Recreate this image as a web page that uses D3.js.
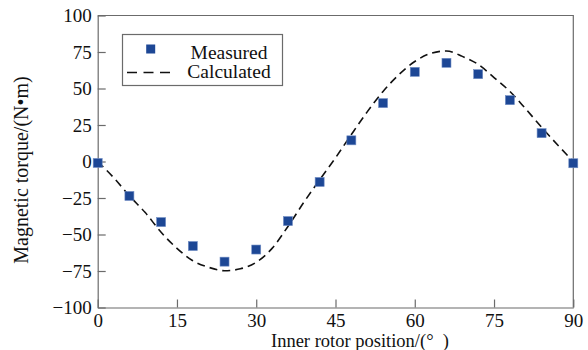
<!DOCTYPE html>
<html>
<head>
<meta charset="utf-8">
<script src="https://cdn.jsdelivr.net/npm/d3@7"></script>
<style>
	body { margin: 0; background: #fff; }
	text { font-family: "Liberation Serif", "Times New Roman", serif; fill: #111; }
</style>
</head>
<body>
<div id="chart"></div>
<script>
'use strict';

// measured torque, every 6 deg
const measuredPos = [0, 6, 12, 18, 24, 30, 36, 42, 48, 54, 60, 66, 72, 78, 84, 90];
const measuredVal = [-1, -23.6, -41.5, -57.9, -68.6, -60.3, -40.8, -14, 14.5, 40, 61.4, 67.6, 59.8, 42, 19.4, -1.2];

const calcPos = [0, 3, 6, 9, 12, 15, 18, 21, 24, 27, 30, 33, 36, 39, 42, 45, 48, 51, 54, 57, 60, 63, 66, 69, 72, 75, 78, 81, 84, 87, 90];
const calcVal = [0, -11, -23.5, -35, -48.5, -59.5, -68, -72.5, -74.8, -73.5, -69, -59.5, -44.5, -28, -12.5, 2.5, 18.5, 34, 48, 59.5, 68.5, 74, 75.7, 72, 66.5, 57.5, 48, 36, 23.5, 11.5, 0];

const xTicks = [0, 15, 30, 45, 60, 75, 90];
const yTicks = [-100, -75, -50, -25, 0, 25, 50, 75, 100];

const width = 588, height = 350;
const axisColor = "#6b6b6b";
const markColor = "#1d4795";

const svg = d3.select("#chart")
	.append("svg")
		.attr("width", width)
		.attr("height", height);

const x = d3.scaleLinear()
	.domain([0, 90])
	.range([97.7, 573.3]);

const y = d3.scaleLinear()
	.domain([-100, 100])
	.range([307.5, 15.5]);

// frame (top + right sides)
svg.append("path")
	.attr("d", `M${x(0)},${y(100)}H${x(90)}V${y(-100)}`)
	.attr("fill", "none")
	.attr("stroke", axisColor)
	.attr("stroke-width", 1.2);

// axes, ticks pointing in
const xAxis = svg.append("g")
	.attr("transform", `translate(0,${y(-100)})`)
	.call(d3.axisBottom(x).tickValues(xTicks).tickSizeInner(-8).tickSizeOuter(0).tickPadding(6));

const yAxis = svg.append("g")
	.attr("transform", `translate(${x(0)},0)`)
	.call(d3.axisLeft(y).tickValues(yTicks).tickSizeInner(-8).tickSizeOuter(0).tickPadding(6));

[xAxis, yAxis].forEach(g => {
	g.select(".domain").attr("stroke", axisColor).attr("stroke-width", 1.2);
	g.selectAll(".tick line").attr("stroke", axisColor).attr("stroke-width", 1.2);
	g.selectAll(".tick text")
		.attr("fill", "#111")
		.style("font-family", '"Liberation Serif", "Times New Roman", serif')
		.style("font-size", "19px");
});

// calculated curve
const calc = calcPos.map((p, i) => ({pos: p, val: calcVal[i]}));
const line = d3.line()
	.x(d => x(d.pos))
	.y(d => y(d.val))
	.curve(d3.curveMonotoneX);

svg.append("path")
	.datum(calc)
	.attr("d", line)
	.attr("fill", "none")
	.attr("stroke", "#111")
	.attr("stroke-width", 1.6)
	.attr("stroke-dasharray", "8,5");

// measured points
const meas = measuredPos.map((p, i) => ({pos: p, val: measuredVal[i]}));
const sz = 9;
svg.append("g")
	.selectAll("rect")
	.data(meas)
	.join("rect")
		.attr("x", d => x(d.pos) - sz / 2)
		.attr("y", d => y(d.val) - sz / 2)
		.attr("width", sz)
		.attr("height", sz)
		.attr("fill", markColor)
		.attr("stroke", "#6f8cc4")
		.attr("stroke-width", 0.6);

// axis titles
svg.append("text")
	.attr("x", 360)
	.attr("y", 346.5)
	.attr("text-anchor", "middle")
	.style("font-size", "18.5px")
	.style("white-space", "pre")
	.text("Inner rotor position/(\u00b0  )");

svg.append("text")
	.attr("transform", "rotate(-90)")
	.attr("x", -170)
	.attr("y", 28)
	.attr("text-anchor", "middle")
	.style("font-size", "20px")
	.text("Magnetic torque/(N\u2022m)");

// legend
const legend = svg.append("g");
legend.append("rect")
	.attr("x", 122.5)
	.attr("y", 34.5)
	.attr("width", 160)
	.attr("height", 51)
	.attr("fill", "#fff")
	.attr("stroke", axisColor)
	.attr("stroke-width", 1.2);

legend.append("rect")
	.attr("x", 150.7 - sz / 2)
	.attr("y", 49 - sz / 2)
	.attr("width", sz)
	.attr("height", sz)
	.attr("fill", markColor);

legend.append("line")
	.attr("x1", 127)
	.attr("x2", 170)
	.attr("y1", 72.5)
	.attr("y2", 72.5)
	.attr("stroke", "#111")
	.attr("stroke-width", 1.6)
	.attr("stroke-dasharray", "10,6.5");

legend.append("text")
	.attr("x", 229)
	.attr("y", 59)
	.attr("text-anchor", "middle")
	.style("font-size", "19.5px")
	.text("Measured");

legend.append("text")
	.attr("x", 229)
	.attr("y", 78)
	.attr("text-anchor", "middle")
	.style("font-size", "19.5px")
	.text("Calculated");
</script>
</body>
</html>
